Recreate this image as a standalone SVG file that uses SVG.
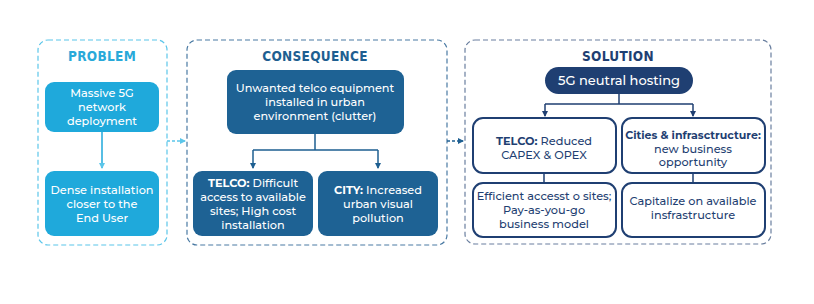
<svg xmlns="http://www.w3.org/2000/svg" width="814" height="304" viewBox="0 0 814 304">
<style>
.t{font-family:"Montserrat","Open Sans","Liberation Sans",sans-serif;font-size:11.3px;font-weight:500;text-anchor:middle}
.w{fill:#ffffff}
.n{fill:#1f3f72}
.b{font-weight:bold}
.ttl{font-family:"DejaVu Sans",sans-serif;font-weight:bold;font-stretch:condensed;font-size:13.5px;text-anchor:middle;letter-spacing:0.3px}
.frame{fill:none;stroke-width:1.2;stroke-dasharray:5 3}
.c{fill:none;stroke-width:1.5}
</style>
<defs>
<marker id="al" viewBox="0 0 6 6" refX="5" refY="3" markerWidth="4" markerHeight="4" orient="auto"><path d="M0,0 L6,3 L0,6 z" fill="#5bc6ea"/></marker>
<marker id="ad" viewBox="0 0 6 6" refX="5" refY="3" markerWidth="4" markerHeight="4" orient="auto"><path d="M0,0 L6,3 L0,6 z" fill="#1e5f91"/></marker>
<marker id="an" viewBox="0 0 6 6" refX="5" refY="3" markerWidth="4" markerHeight="4" orient="auto"><path d="M0,0 L6,3 L0,6 z" fill="#1f3f72"/></marker>
</defs>
<rect width="814" height="304" fill="#ffffff"/>

<g id="problem">
<rect x="38" y="40" width="129" height="205" rx="10" class="frame" stroke="#5bc6ea"/>
<text x="102" y="61" class="ttl" fill="#29a9d9">PROBLEM</text>
</g>
<g id="consequence">
<rect x="187" y="40" width="260" height="205" rx="10" class="frame" stroke="#4a7aa3"/>
<text x="315" y="61" class="ttl" fill="#1e5f91">CONSEQUENCE</text>
</g>
<g id="solution">
<rect x="465" y="40" width="306" height="204" rx="10" class="frame" stroke="#6a7f9f"/>
<text x="618" y="61" class="ttl" fill="#1f3f72">SOLUTION</text>
</g>

<g id="connectors">
<path d="M167,141 H185" class="c" stroke="#5bc6ea" stroke-width="1" stroke-dasharray="3 2" marker-end="url(#al)"/>
<path d="M447,141 H463" class="c" stroke="#1e5f91" stroke-width="1" stroke-dasharray="3 2" marker-end="url(#ad)"/>
<path d="M102,132 V168" class="c" stroke="#1fa9db" marker-end="url(#al)"/>
<path d="M315,134 V150 M253,150 H378" class="c" stroke="#1e5f91"/>
<path d="M253,150 V168" class="c" stroke="#1e5f91" marker-end="url(#ad)"/>
<path d="M378,150 V168" class="c" stroke="#1e5f91" marker-end="url(#ad)"/>
<path d="M619,94 V104 M545,104 H693" class="c" stroke="#1f3f72"/>
<path d="M545,104 V116" class="c" stroke="#1f3f72" marker-end="url(#an)"/>
<path d="M693,104 V116" class="c" stroke="#1f3f72" marker-end="url(#an)"/>
<path d="M544,173 V183 M693,173 V183" class="c" stroke="#1f3f72"/>
</g>

<g id="p1">
<rect x="45" y="82" width="114" height="50" rx="9" fill="#1fa9db"/>
<text class="t w"><tspan x="102" y="97">Massive 5G</tspan><tspan x="102" y="111">network</tspan><tspan x="102" y="125">deployment</tspan></text>
</g>
<g id="p2">
<rect x="45" y="171" width="114" height="65" rx="9" fill="#1fa9db"/>
<text class="t w"><tspan x="102" y="194">Dense installation</tspan><tspan x="102" y="208">closer to the</tspan><tspan x="102" y="222">End User</tspan></text>
</g>

<g id="c1">
<rect x="227" y="70" width="177" height="64" rx="9" fill="#1e6294"/>
<text class="t w"><tspan x="315" y="92">Unwanted telco equipment</tspan><tspan x="315" y="106">installed in urban</tspan><tspan x="315" y="120">environment (clutter)</tspan></text>
</g>
<g id="c2">
<rect x="193" y="171" width="120" height="65" rx="9" fill="#1e6294"/>
<text class="t w"><tspan x="253" y="187"><tspan class="b">TELCO:</tspan> Difficult</tspan><tspan x="253" y="201">access to available</tspan><tspan x="253" y="215">sites; High cost</tspan><tspan x="253" y="229">installation</tspan></text>
</g>
<g id="c3">
<rect x="318" y="171" width="120" height="65" rx="9" fill="#1e6294"/>
<text class="t w"><tspan x="378" y="194"><tspan class="b">CITY:</tspan> Increased</tspan><tspan x="378" y="208">urban visual</tspan><tspan x="378" y="222">pollution</tspan></text>
</g>

<g id="s0">
<rect x="545" y="67" width="148" height="27" rx="13.5" fill="#1f3f72"/>
<text x="619" y="85" class="t w" style="font-size:13px">5G neutral hosting</text>
</g>
<g id="s1">
<rect x="473" y="118" width="143" height="55" rx="10" fill="#ffffff" stroke="#1f3f72" stroke-width="2"/>
<text class="t n"><tspan x="544" y="145"><tspan class="b">TELCO:</tspan> Reduced</tspan><tspan x="544" y="159">CAPEX &amp; OPEX</tspan></text>
</g>
<g id="s2">
<rect x="622" y="118" width="143" height="55" rx="10" fill="#ffffff" stroke="#1f3f72" stroke-width="2"/>
<text class="t n"><tspan x="693" y="139" class="b" style="font-size:11px">Cities &amp; infrasctructure:</tspan><tspan x="693" y="153">new business</tspan><tspan x="693" y="166">opportunity</tspan></text>
</g>
<g id="s3">
<rect x="473" y="183" width="143" height="54" rx="10" fill="#ffffff" stroke="#1f3f72" stroke-width="2"/>
<text class="t n"><tspan x="544" y="200">Efficient accesst o sites;</tspan><tspan x="544" y="214">Pay-as-you-go</tspan><tspan x="544" y="228">business model</tspan></text>
</g>
<g id="s4">
<rect x="622" y="183" width="143" height="54" rx="10" fill="#ffffff" stroke="#1f3f72" stroke-width="2"/>
<text class="t n"><tspan x="693" y="205">Capitalize on available</tspan><tspan x="693" y="219">insfrastructure</tspan></text>
</g>
</svg>
